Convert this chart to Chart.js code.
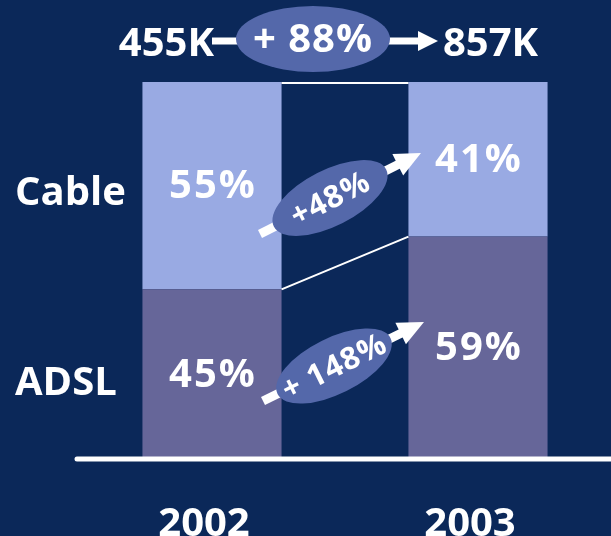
<!DOCTYPE html>
<html>
<head>
<meta charset="utf-8">
<script src="https://cdn.jsdelivr.net/npm/chart.js@4.4.1/dist/chart.umd.min.js"></script>
<style>
  html, body { margin: 0; padding: 0; background: #0b2859; }
  #wrap { width: 611px; height: 536px; }
</style>
</head>
<body>
<div id="wrap"><canvas id="grafica"></canvas></div>
<script>
// datos
var years = ['2002', '2003'];
var adslShare = [45, 59];
var cableShare = [55, 41];
var totals = ['455K', '857K'];
var totalGrowth = '+ 88%';
var cableGrowth = '+48%';
var adslGrowth = '+ 148%';

var FONT = '"Open Sans", "DejaVu Sans", sans-serif';
var ELLIPSE = '#5468aa';

function arrow(ctx, x1, y1, x2, y2, w, headLen, headW) {
    var ang = Math.atan2(y2 - y1, x2 - x1);
    var len = Math.hypot(x2 - x1, y2 - y1);
    ctx.save();
    ctx.translate(x1, y1);
    ctx.rotate(ang);
    ctx.fillStyle = '#ffffff';
    ctx.fillRect(0, -w / 2, len - headLen + 1, w);
    ctx.beginPath();
    ctx.moveTo(len, 0);
    ctx.lineTo(len - headLen, -headW / 2);
    ctx.lineTo(len - headLen, headW / 2);
    ctx.closePath();
    ctx.fill();
    ctx.restore();
}

function bubble(ctx, cx, cy, rx, ry, ang, text, size) {
    ctx.save();
    ctx.translate(cx, cy);
    ctx.rotate(ang);
    ctx.fillStyle = ELLIPSE;
    ctx.beginPath();
    ctx.ellipse(0, 0, rx, ry, 0, 0, Math.PI * 2);
    ctx.fill();
    ctx.fillStyle = '#ffffff';
    ctx.font = 'bold ' + size + 'px ' + FONT;
    ctx.textAlign = 'center';
    ctx.textBaseline = 'middle';
    ctx.letterSpacing = '1px';
    ctx.fillText(text, 0, 2);
    ctx.restore();
}

var extras = {
    id: 'extras',
    afterDatasetsDraw: function (chart) {
        var ctx = chart.ctx;
        var adsl = chart.getDatasetMeta(0).data;
        var cable = chart.getDatasetMeta(1).data;
        var area = chart.chartArea;

        // porcentajes dentro de las barras
        ctx.save();
        ctx.fillStyle = '#ffffff';
        ctx.font = 'bold 40px ' + FONT;
        ctx.textAlign = 'center';
        ctx.textBaseline = 'middle';
        ctx.letterSpacing = '2px';
        [adsl, cable].forEach(function (set, d) {
            var vals = d === 0 ? adslShare : cableShare;
            set.forEach(function (bar, i) {
                var mid = (bar.y + bar.base) / 2;
                ctx.fillText(vals[i] + '%', bar.x + 1, mid + 1);
            });
        });

        // etiquetas de serie
        ctx.textAlign = 'left';
        ctx.textBaseline = 'alphabetic';
        ctx.letterSpacing = '0px';
        ctx.fillText('Cable', 15, 205);
        ctx.fillText('ADSL', 15, 395);
        ctx.restore();

        // líneas de conexión
        var r0 = adsl[0].x + adsl[0].width / 2;
        var l1 = adsl[1].x - adsl[1].width / 2;
        ctx.save();
        ctx.strokeStyle = '#ffffff';
        ctx.lineWidth = 2;
        ctx.beginPath();
        ctx.moveTo(r0, cable[0].y + 1);
        ctx.lineTo(l1, cable[1].y + 1);
        ctx.moveTo(r0, adsl[0].y);
        ctx.lineTo(l1, adsl[1].y);
        ctx.stroke();

        // eje inferior
        ctx.lineWidth = 5;
        ctx.lineCap = 'round';
        ctx.beginPath();
        ctx.moveTo(77, area.bottom);
        ctx.lineTo(chart.width + 5, area.bottom);
        ctx.stroke();
        ctx.restore();

        // total arriba
        ctx.save();
        ctx.fillStyle = '#ffffff';
        ctx.font = 'bold 40px ' + FONT;
        ctx.textBaseline = 'alphabetic';
        ctx.textAlign = 'right';
        ctx.fillText(totals[0], 214, 56);
        ctx.textAlign = 'left';
        ctx.fillText(totals[1], 443, 56);
        ctx.restore();
        arrow(ctx, 212, 41, 438, 41, 7, 20, 20);
        bubble(ctx, 313, 39, 77, 33, 0, totalGrowth, 40);

        // crecimiento por tipo
        arrow(ctx, 260, 234, 421, 153, 9, 26, 24);
        bubble(ctx, 330, 198, 63, 28, -0.47, cableGrowth, 31);
        arrow(ctx, 263, 401, 424, 322, 9, 26, 24);
        bubble(ctx, 334, 366, 63, 28, -0.46, adslGrowth, 31);
    }
};

new Chart(document.getElementById('grafica').getContext('2d'), {
    type: 'bar',
    data: {
        labels: years,
        datasets: [{
            label: 'ADSL',
            data: adslShare,
            backgroundColor: '#666699',
            borderWidth: 0
        }, {
            label: 'Cable',
            data: cableShare,
            backgroundColor: '#99aae3',
            borderWidth: 0
        }]
    },
    options: {
        responsive: true,
        maintainAspectRatio: false,
        animation: false,
        layout: { padding: { left: 79, right: 0, top: 82, bottom: 0 } },
        datasets: { bar: { barPercentage: 1, categoryPercentage: 0.523 } },
        plugins: {
            legend: { display: false },
            tooltip: { enabled: false }
        },
        scales: {
            x: {
                stacked: true,
                grid: { display: false },
                border: { display: false },
                afterFit: function (scale) { scale.height = 77; },
                ticks: {
                    color: '#ffffff',
                    padding: 34,
                    labelOffset: -8,
                    maxRotation: 0,
                    font: { family: FONT, size: 40, weight: 'bold' }
                }
            },
            y: {
                stacked: true,
                display: false,
                min: 0,
                max: 100
            }
        }
    },
    plugins: [extras]
});
</script>
</body>
</html>
